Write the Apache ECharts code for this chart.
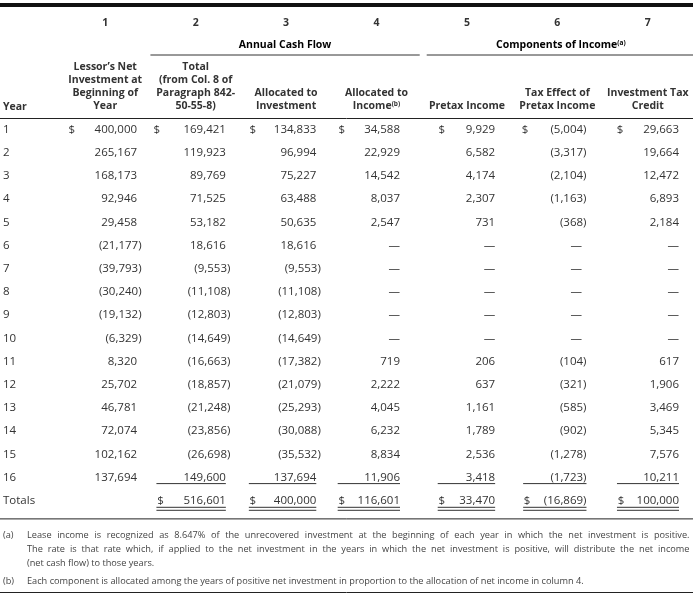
<!DOCTYPE html>
<html><head><meta charset="utf-8">
<script src="https://cdn.jsdelivr.net/npm/echarts@6/dist/echarts.min.js"></script>
<style>html,body{margin:0;padding:0;background:#fff}#c{width:696px;height:595px}</style>
</head><body><div id="c"></div>
<script>
// ---------- data ----------
const years = ['1','2','3','4','5','6','7','8','9','10','11','12','13','14','15','16','Totals'];
const colNumbers = ['1','2','3','4','5','6','7'];
const colHeaders = [
  ['Lessor\u2019s Net','Investment at','Beginning of','Year'],
  ['Total','(from Col. 8 of','Paragraph 842-','50-55-8)'],
  ['Allocated to','Investment'],
  ['Allocated to','Income|(b)'],
  ['Pretax Income'],
  ['Tax Effect of','Pretax Income'],
  ['Investment Tax','Credit']
];
const groupHeaders = [
  {text:'Annual Cash Flow', sup:'', from:1, to:3},
  {text:'Components of Income', sup:'(a)', from:4, to:6}
];
// null = dash
const netInvestment = [400000,265167,168173,92946,29458,-21177,-39793,-30240,-19132,-6329,8320,25702,46781,72074,102162,137694];
const totalCashFlow = [169421,119923,89769,71525,53182,18616,-9553,-11108,-12803,-14649,-16663,-18857,-21248,-23856,-26698,149600];
const allocInvestment = [134833,96994,75227,63488,50635,18616,-9553,-11108,-12803,-14649,-17382,-21079,-25293,-30088,-35532,137694];
const allocIncome = [34588,22929,14542,8037,2547,null,null,null,null,null,719,2222,4045,6232,8834,11906];
const pretaxIncome = [9929,6582,4174,2307,731,null,null,null,null,null,206,637,1161,1789,2536,3418];
const taxEffect = [-5004,-3317,-2104,-1163,-368,null,null,null,null,null,-104,-321,-585,-902,-1278,-1723];
const investmentTaxCredit = [29663,19664,12472,6893,2184,null,null,null,null,null,617,1906,3469,5345,7576,10211];
const columnTotals = [undefined,516601,400000,116601,33470,-16869,100000];
const footnotes = [
  {mark:'(a)', lines:['Lease income is recognized as 8.647% of the unrecovered investment at the beginning of each year in which the net investment is positive.',
    'The rate is that rate which, if applied to the net investment in the years in which the net investment is positive, will distribute the net income',
    '(net cash flow) to those years.']},
  {mark:'(b)', lines:['Each component is allocated among the years of positive net investment in proportion to the allocation of net income in column 4.']}
];

const columns = [netInvestment,totalCashFlow,allocInvestment,allocIncome,pretaxIncome,taxEffect,investmentTaxCredit];

// ---------- styles / layout ----------
const FONT = "'Open Sans', sans-serif";
const TXT = '#333333';
const numFont = '11.5px ' + FONT;
const fnFont = '9.2px ' + FONT;
const cellLayout = [
  {right:13.4, dollar0:11.7, dollarT:null},
  {right:15,   dollar0:6.3,  dollarT:10},
  {right:15,   dollar0:12,   dollarT:12},
  {right:21.7, dollar0:10.4, dollarT:10.4},
  {right:17,   dollar0:20,   dollarT:20},
  {right:20.6, dollar0:13,   dollarT:15},
  {right:14,   dollar0:17.4, dollarT:18.4}
];
const PAREN = 4.5;

function fmt(v){
  if (v === null) return '\u2014';
  const s = Math.abs(v).toLocaleString('en-US');
  return v < 0 ? '(' + s + ')' : s;
}

const TOTAL_ROW = years.length - 1;
const LAST_YEAR = TOTAL_ROW - 1;

function renderItem(params, api){
  const c = api.value(0), r = api.value(1);
  const p = api.coord([c, r]);
  const sz = api.size([1, 1]);
  const L = p[0] - sz[0]/2, R = p[0] + sz[0]/2;
  const lay = cellLayout[c];
  const v = r === TOTAL_ROW ? columnTotals[c] : columns[c][r];
  const xr = R - lay.right;
  const kids = [];
  kids.push({type:'text', style:{text:fmt(v), x: xr + (v !== null && v < 0 ? PAREN : 0), y:p[1],
    align:'right', verticalAlign:'middle', font:numFont, fill:TXT}});
  if (r === 0) {
    kids.push({type:'text', style:{text:'$', x:L+lay.dollar0, y:p[1], align:'center', verticalAlign:'middle', font:numFont, fill:TXT}});
  }
  const ulStart = L + (lay.dollarT || 0) - 4;
  const ulEnd = xr + (c === 5 ? PAREN : 0);
  if (r === LAST_YEAR && c > 0) {
    kids.push({type:'line', shape:{x1:ulStart, y1:p[1]+6, x2:ulEnd, y2:p[1]+6}, style:{stroke:TXT, lineWidth:1}});
  }
  if (r === TOTAL_ROW) {
    kids.push({type:'text', style:{text:'$', x:L+lay.dollarT, y:p[1], align:'center', verticalAlign:'middle', font:numFont, fill:TXT}});
    kids.push({type:'line', shape:{x1:ulStart, y1:p[1]+6.5, x2:ulEnd, y2:p[1]+6.5}, style:{stroke:TXT, lineWidth:1}});
    kids.push({type:'line', shape:{x1:ulStart, y1:p[1]+9.5, x2:ulEnd, y2:p[1]+9.5}, style:{stroke:TXT, lineWidth:1}});
  }
  return {type:'group', children:kids};
}

const series = columns.map((col, c) => {
  const data = col.map((v, r) => [c, r]);
  if (columnTotals[c] !== undefined) data.push([c, TOTAL_ROW]);
  return {type:'custom', coordinateSystem:'cartesian2d', xAxisIndex:0, yAxisIndex:0,
    encode:{x:0, y:1}, renderItem, data, silent:true, clip:false};
});

const headRich = {
  h:{fontFamily:FONT, fontSize:10.5, fontWeight:'bold', color:TXT, lineHeight:13},
  s:{fontFamily:FONT, fontSize:6.5, fontWeight:'bold', color:TXT, lineHeight:13, verticalAlign:'top', padding:[1,0,0,0]}
};

const chart = echarts.init(document.getElementById('c'), null, {renderer:'canvas'});
chart.setOption({
  animation:false,
  grid:{left:60, right:3, top:118, bottom:82.6},
  xAxis:[
    {type:'category', position:'top', data:colHeaders.map(h=>h.join('\n')),
     axisLine:{show:false}, axisTick:{show:false}, splitLine:{show:false},
     axisLabel:{interval:0, margin:5, verticalAlign:'bottom', lineHeight:13,
       formatter:(val, i)=>colHeaders[i].map(line=>{
         const parts = line.split('|');
         return '{h|' + parts[0] + '}' + (parts[1] ? '{s|' + parts[1] + '}' : '');
       }).join('\n'),
       rich:headRich}},
    {type:'category', position:'top', offset:95.3, data:colNumbers,
     axisLine:{show:false}, axisTick:{show:false}, splitLine:{show:false},
     axisLabel:{interval:0, margin:0, verticalAlign:'middle', fontFamily:FONT, fontSize:10.5, fontWeight:'bold', color:TXT}}
  ],
  yAxis:{type:'category', inverse:true, data:years,
    axisLine:{show:false}, axisTick:{show:false}, splitLine:{show:false},
    axisLabel:{interval:0, align:'left', margin:57, fontFamily:FONT, fontSize:11.5, color:TXT}},
  series
});

// ---------- decoration from axis geometry ----------
const xc = i => chart.convertToPixel({xAxisIndex:0}, i);
const yc = i => chart.convertToPixel({yAxisIndex:0}, i);
const bw = xc(1) - xc(0), bh = yc(1) - yc(0);
const tableRight = xc(6) + bw/2;
const gridTop = yc(0) - bh/2;
const gridBottom = yc(TOTAL_ROW) + bh/2;
const g = [];
g.push({type:'rect', shape:{x:0, y:3, width:tableRight, height:4}, style:{fill:'#111'}});
groupHeaders.forEach((gh, k) => {
  const x1 = xc(gh.from) - bw/2 + (k === 0 ? 0 : 5);
  const x2 = xc(gh.to) + bw/2 - (k === 0 ? 2 : 0);
  g.push({type:'text', style:{text:'{h|' + gh.text + '}' + (gh.sup ? '{s|' + gh.sup + '}' : ''), rich:headRich,
    x:(x1 + x2)/2 + (k === 0 ? 0 : 1), y:45, align:'center', verticalAlign:'middle'}});
  g.push({type:'line', shape:{x1, y1:55, x2, y2:55}, style:{stroke:TXT, lineWidth:1}});
});
g.push({type:'text', style:{text:'Year', x:3, y:107.3, verticalAlign:'middle', font:'bold 10.5px ' + FONT, fill:TXT}});
g.push({type:'line', shape:{x1:0, y1:gridTop + 0.5, x2:tableRight, y2:gridTop + 0.5}, style:{stroke:'#222', lineWidth:1}});
g.push({type:'line', shape:{x1:0, y1:gridBottom + 6.5, x2:tableRight, y2:gridBottom + 6.5}, style:{stroke:'#222', lineWidth:1}});

// footnotes (justified except last line of each note)
const mctx = document.createElement('canvas').getContext('2d');
mctx.font = fnFont;
const fnLeft = 27, fnRight = tableRight - 3.5;
const fnY = [[535.5, 549.5, 563.5], [581]];
footnotes.forEach((fn, k) => {
  g.push({type:'text', style:{text:fn.mark, x:3, y:fnY[k][0], verticalAlign:'middle', font:fnFont, fill:'#444'}});
  fn.lines.forEach((ln, j) => {
    const y = fnY[k][j];
    if (j < fn.lines.length - 1) {
      const words = ln.split(' ');
      const widths = words.map(w => mctx.measureText(w).width);
      const sum = widths.reduce((a, b) => a + b, 0);
      const gap = (fnRight - fnLeft - sum) / (words.length - 1);
      let x = fnLeft;
      words.forEach((w, i) => {
        g.push({type:'text', style:{text:w, x, y, verticalAlign:'middle', font:fnFont, fill:'#444'}});
        x += widths[i] + gap;
      });
    } else {
      g.push({type:'text', style:{text:ln, x:fnLeft, y, verticalAlign:'middle', font:fnFont, fill:'#444'}});
    }
  });
});
g.push({type:'line', shape:{x1:0, y1:592.5, x2:tableRight, y2:592.5}, style:{stroke:'#222', lineWidth:1}});
chart.setOption({graphic:{elements:g}});
</script>
</body></html>
